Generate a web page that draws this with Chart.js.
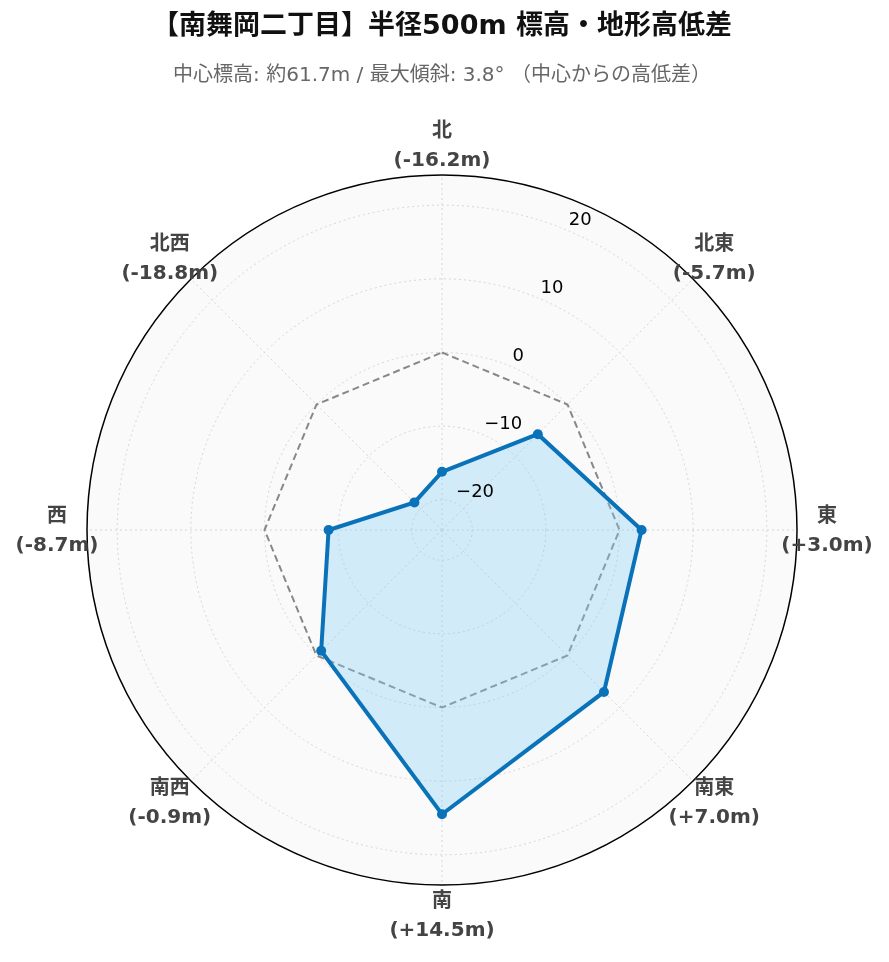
<!DOCTYPE html>
<html>
<head>
<meta charset="utf-8">
<script src="https://cdn.jsdelivr.net/npm/chart.js@4"></script>
<style>
  html, body { margin: 0; padding: 0; background: #ffffff; }
  #wrap { width: 889px; height: 962px; position: relative; }
</style>
</head>
<body>
<div id="wrap"><canvas id="c" width="889" height="962"></canvas></div>
<script>
// ---- data ----
const directions = ['北', '北東', '東', '南東', '南', '南西', '西', '北西'];
const elevationDiffs = [-16.2, -5.7, 3.0, 7.0, 14.5, -0.9, -8.7, -18.8];
const referenceLevel = [0, 0, 0, 0, 0, 0, 0, 0];
const radialTicks = [-20, -10, 0, 10, 20];
const radialMin = -24.1;
const radialMax = 24.1;
const titleText = '【南舞岡二丁目】半径500m 標高・地形高低差';
const subtitleText = '中心標高: 約61.7m / 最大傾斜: 3.8° （中心からの高低差）';

const FONT = '"DejaVu Sans", "Noto Sans CJK JP", sans-serif';

function fmtDiff(v) {
  return '(' + (v > 0 ? '+' : '') + v.toFixed(1) + 'm)';
}

const polarDecor = {
  id: 'polarDecor',
  beforeDatasetsDraw(chart) {
    const s = chart.scales.r;
    const ctx = chart.ctx;
    const cx = s.xCenter, cy = s.yCenter, R = s.drawingArea;
    ctx.save();
    ctx.beginPath();
    ctx.arc(cx, cy, R, 0, Math.PI * 2);
    ctx.fillStyle = '#fafafa';
    ctx.fill();
    ctx.strokeStyle = '#d6d6d6';
    ctx.lineWidth = 1;
    ctx.setLineDash([2, 3]);
    radialTicks.forEach(v => {
      const r = s.getDistanceFromCenterForValue(v);
      ctx.beginPath();
      ctx.arc(cx, cy, r, 0, Math.PI * 2);
      ctx.stroke();
    });
    for (let i = 0; i < directions.length; i++) {
      const p = s.getPointPosition(i, R);
      ctx.beginPath();
      ctx.moveTo(cx, cy);
      ctx.lineTo(p.x, p.y);
      ctx.stroke();
    }
    ctx.setLineDash([]);
    ctx.beginPath();
    ctx.arc(cx, cy, R, 0, Math.PI * 2);
    ctx.strokeStyle = '#000000';
    ctx.lineWidth = 1.5;
    ctx.stroke();
    ctx.restore();
  },
  afterDatasetsDraw(chart) {
    const s = chart.scales.r;
    const ctx = chart.ctx;
    const cx = s.xCenter, cy = s.yCenter, R = s.drawingArea;
    ctx.save();
    const ang = (-90 + 22.5) * Math.PI / 180;
    ctx.font = '18px ' + FONT;
    ctx.fillStyle = '#000000';
    ctx.textAlign = 'left';
    ctx.textBaseline = 'middle';
    radialTicks.forEach(v => {
      const r = s.getDistanceFromCenterForValue(v);
      const x = cx + r * Math.cos(ang);
      const y = cy + r * Math.sin(ang);
      const txt = v < 0 ? '\u2212' + Math.abs(v) : String(v);
      ctx.fillText(txt, x + 2.5, y - 9.5);
    });
    ctx.textAlign = 'center';
    ctx.fillStyle = '#444444';
    ctx.font = 'bold 20px ' + FONT;
    for (let i = 0; i < directions.length; i++) {
      const p = s.getPointPosition(i, R + 30);
      ctx.fillText(directions[i], p.x, p.y - 14.5 + 1.5);
      ctx.fillText(fmtDiff(elevationDiffs[i]), p.x, p.y + 14.5 + 1.5);
    }
    ctx.restore();
  }
};

new Chart(document.getElementById('c'), {
  type: 'radar',
  data: {
    labels: directions,
    datasets: [
      {
        label: '高低差',
        data: elevationDiffs,
        borderColor: '#0a72b8',
        backgroundColor: 'rgba(135, 206, 245, 0.35)',
        borderWidth: 4,
        fill: 'start',
        pointRadius: 5,
        pointBackgroundColor: '#0a72b8',
        pointBorderWidth: 0,
        tension: 0
      },
      {
        label: '基準',
        data: referenceLevel,
        borderColor: '#888888',
        borderWidth: 2,
        borderDash: [7, 4],
        fill: false,
        pointRadius: 0,
        tension: 0
      }
    ]
  },
  options: {
    responsive: false,
    animation: false,
    layout: { padding: { left: 87, right: 92, top: 0, bottom: 77 } },
    plugins: {
      legend: { display: false },
      tooltip: { enabled: false },
      title: {
        display: true,
        text: titleText,
        color: '#111111',
        font: { family: FONT, size: 27, weight: 'bold', lineHeight: 1.2 },
        padding: { top: 11, bottom: 0 }
      },
      subtitle: {
        display: true,
        text: subtitleText,
        color: '#666666',
        font: { family: FONT, size: 20, weight: 'normal', lineHeight: 1.2 },
        padding: { top: 20.6, bottom: 87 }
      }
    },
    scales: {
      r: {
        min: radialMin,
        max: radialMax,
        startAngle: 0,
        ticks: { display: false },
        grid: { display: false },
        angleLines: { display: false },
        pointLabels: { display: false }
      }
    }
  },
  plugins: [polarDecor]
});
</script>
</body>
</html>
